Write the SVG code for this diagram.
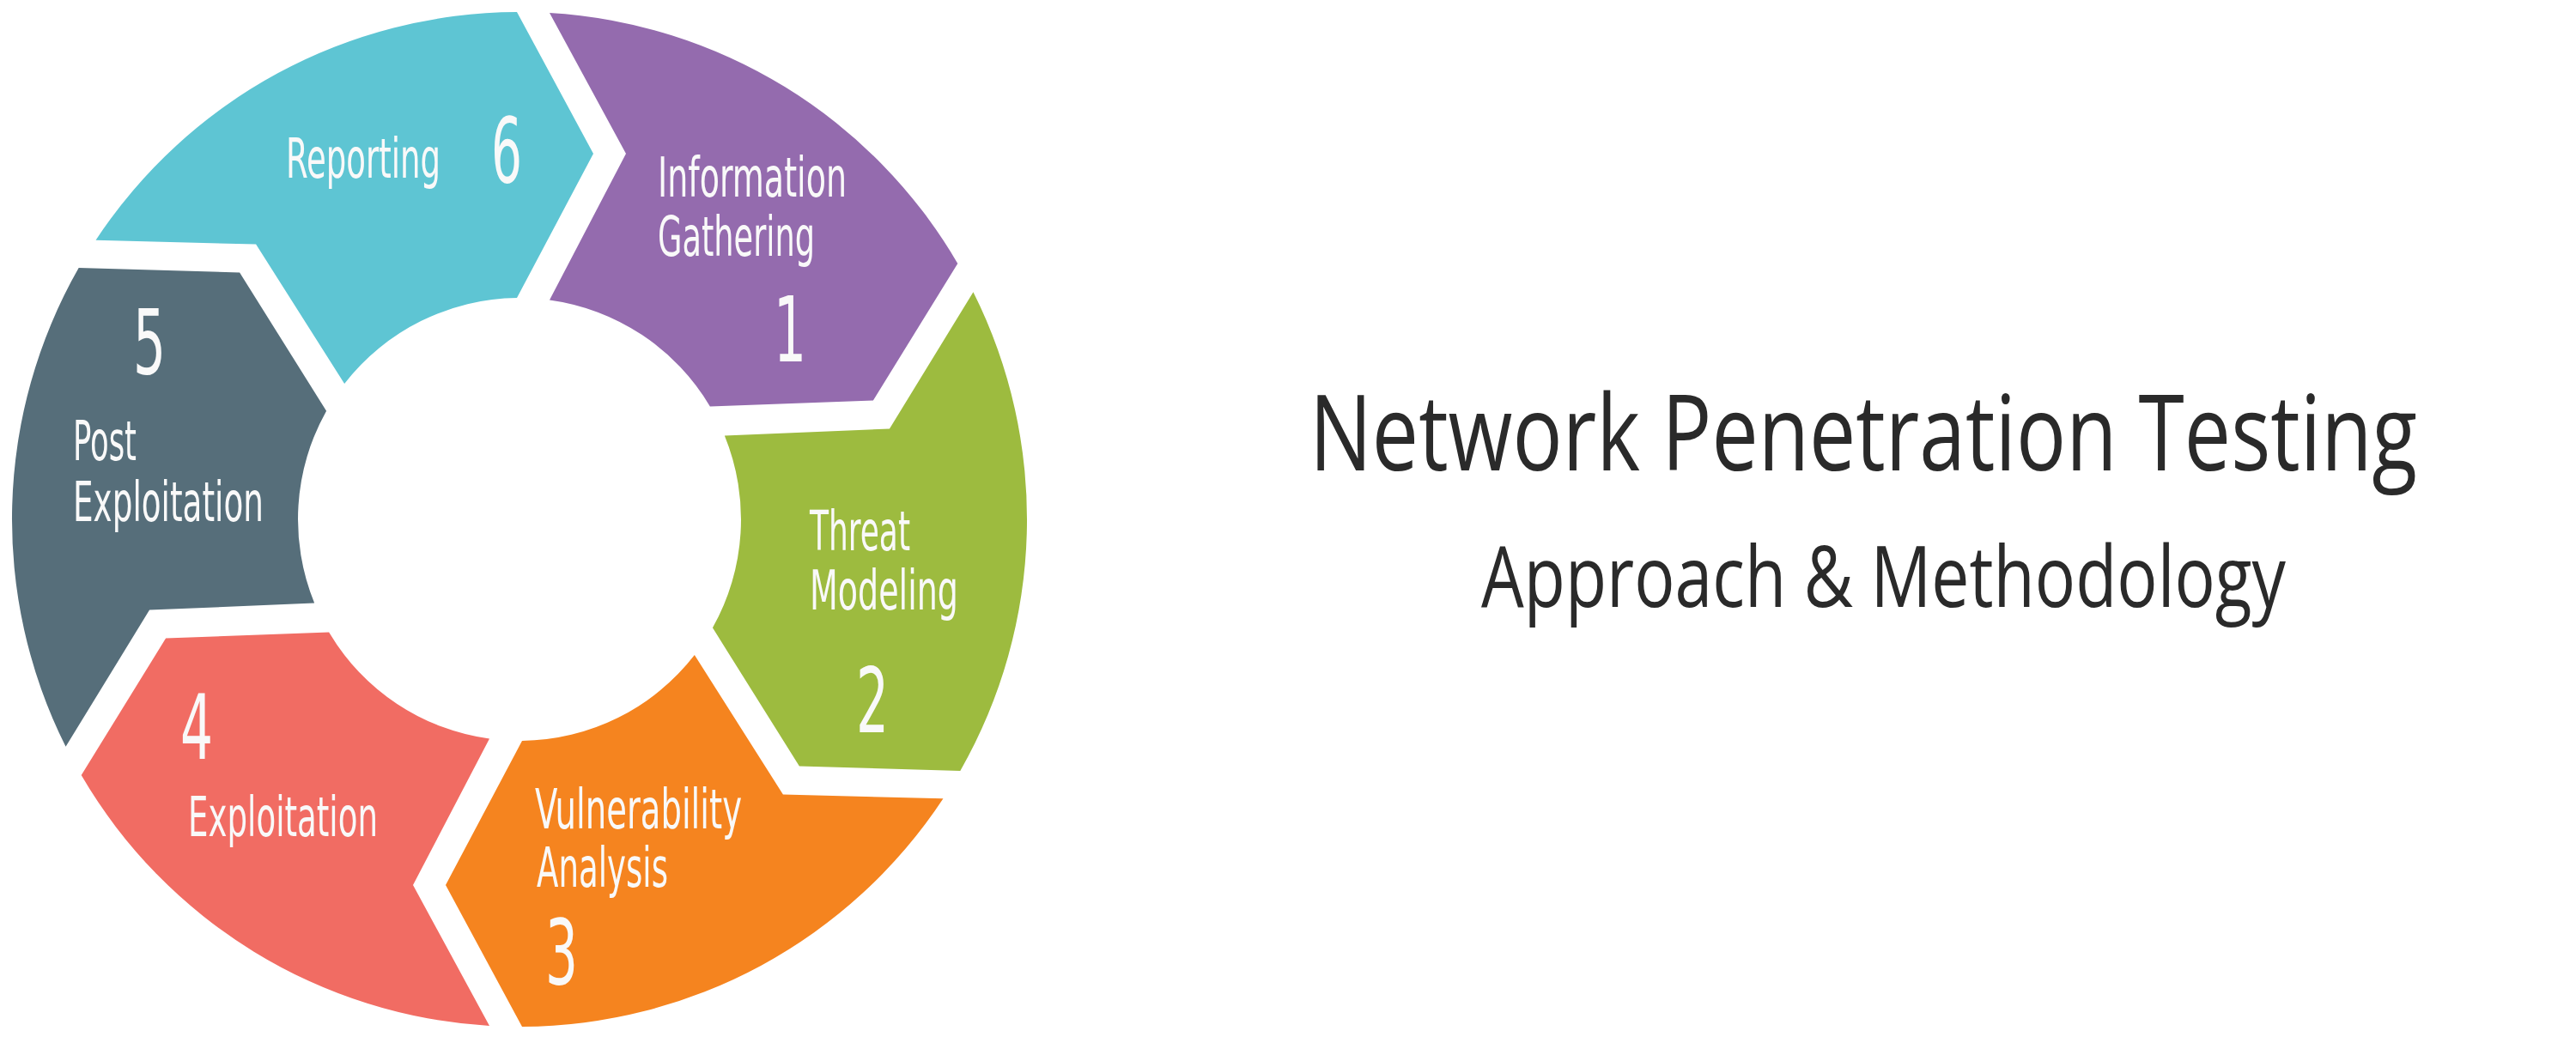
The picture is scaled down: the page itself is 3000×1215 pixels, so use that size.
<svg xmlns="http://www.w3.org/2000/svg" width="3000" height="1215" viewBox="0 0 3000 1215">
<style>
.lbl{font-family:"Liberation Sans Narrow","DejaVu Sans Condensed","Liberation Sans",sans-serif;font-size:64px;fill:#F9F9F9}
.num{font-family:"Liberation Sans Narrow","DejaVu Sans Condensed","Liberation Sans",sans-serif;font-size:105px;fill:#F9F9F9;text-anchor:middle}
.title{font-family:"Open Sans","Liberation Sans",sans-serif;font-weight:400;fill:#2A2A2A}
</style>
<defs>
<path id="seg" d="M 35,-590 A 591 591 0 0 1 510.3,-298.1 L 411.9,-138.5 L 221.9,-131.6 A 258 258 0 0 0 35,-255.6 L 124,-426 Z"/>
</defs>
<rect width="3000" height="1215" fill="#ffffff"/>
<g id="connectors"></g>
<g id="nodes">
<g id="node-1">
<use href="#seg" transform="translate(605,605)" fill="#946BAE"/>
<text class="lbl" x="766" y="229" textLength="220" lengthAdjust="spacingAndGlyphs">Information</text>
<text class="lbl" x="766" y="298" textLength="183" lengthAdjust="spacingAndGlyphs">Gathering</text>
<text class="num" x="920" y="421" textLength="38" lengthAdjust="spacingAndGlyphs">1</text>
</g>
<g id="node-2">
<use href="#seg" transform="translate(605,605) rotate(60)" fill="#9DBB3F"/>
<text class="lbl" x="943" y="641" textLength="117" lengthAdjust="spacingAndGlyphs">Threat</text>
<text class="lbl" x="943" y="710" textLength="173" lengthAdjust="spacingAndGlyphs">Modeling</text>
<text class="num" x="1016" y="853" textLength="38" lengthAdjust="spacingAndGlyphs">2</text>
</g>
<g id="node-3">
<use href="#seg" transform="translate(605,605) rotate(120)" fill="#F5841F"/>
<text class="lbl" x="623" y="965" textLength="241" lengthAdjust="spacingAndGlyphs">Vulnerability</text>
<text class="lbl" x="625" y="1033" textLength="153" lengthAdjust="spacingAndGlyphs">Analysis</text>
<text class="num" x="654" y="1147" textLength="38" lengthAdjust="spacingAndGlyphs">3</text>
</g>
<g id="node-4">
<use href="#seg" transform="translate(605,605) rotate(180)" fill="#F16C63"/>
<text class="num" x="229" y="884" textLength="38" lengthAdjust="spacingAndGlyphs">4</text>
<text class="lbl" x="219" y="974" textLength="221" lengthAdjust="spacingAndGlyphs">Exploitation</text>
</g>
<g id="node-5">
<use href="#seg" transform="translate(605,605) rotate(240)" fill="#566E7A"/>
<text class="num" x="174" y="436" textLength="38" lengthAdjust="spacingAndGlyphs">5</text>
<text class="lbl" x="85" y="536" textLength="74" lengthAdjust="spacingAndGlyphs">Post</text>
<text class="lbl" x="85" y="607" textLength="222" lengthAdjust="spacingAndGlyphs">Exploitation</text>
</g>
<g id="node-6">
<use href="#seg" transform="translate(605,605) rotate(300)" fill="#5EC5D3"/>
<text class="lbl" x="333" y="207" textLength="180" lengthAdjust="spacingAndGlyphs">Reporting</text>
<text class="num" x="590" y="213" textLength="36" lengthAdjust="spacingAndGlyphs">6</text>
</g>
</g>
<g id="title">
<text class="title" x="1525" y="548" font-size="123" textLength="1290" lengthAdjust="spacingAndGlyphs">Network Penetration Testing</text>
<text class="title" x="1725" y="707" font-size="98" textLength="937" lengthAdjust="spacingAndGlyphs">Approach &amp; Methodology</text>
</g>
</svg>
